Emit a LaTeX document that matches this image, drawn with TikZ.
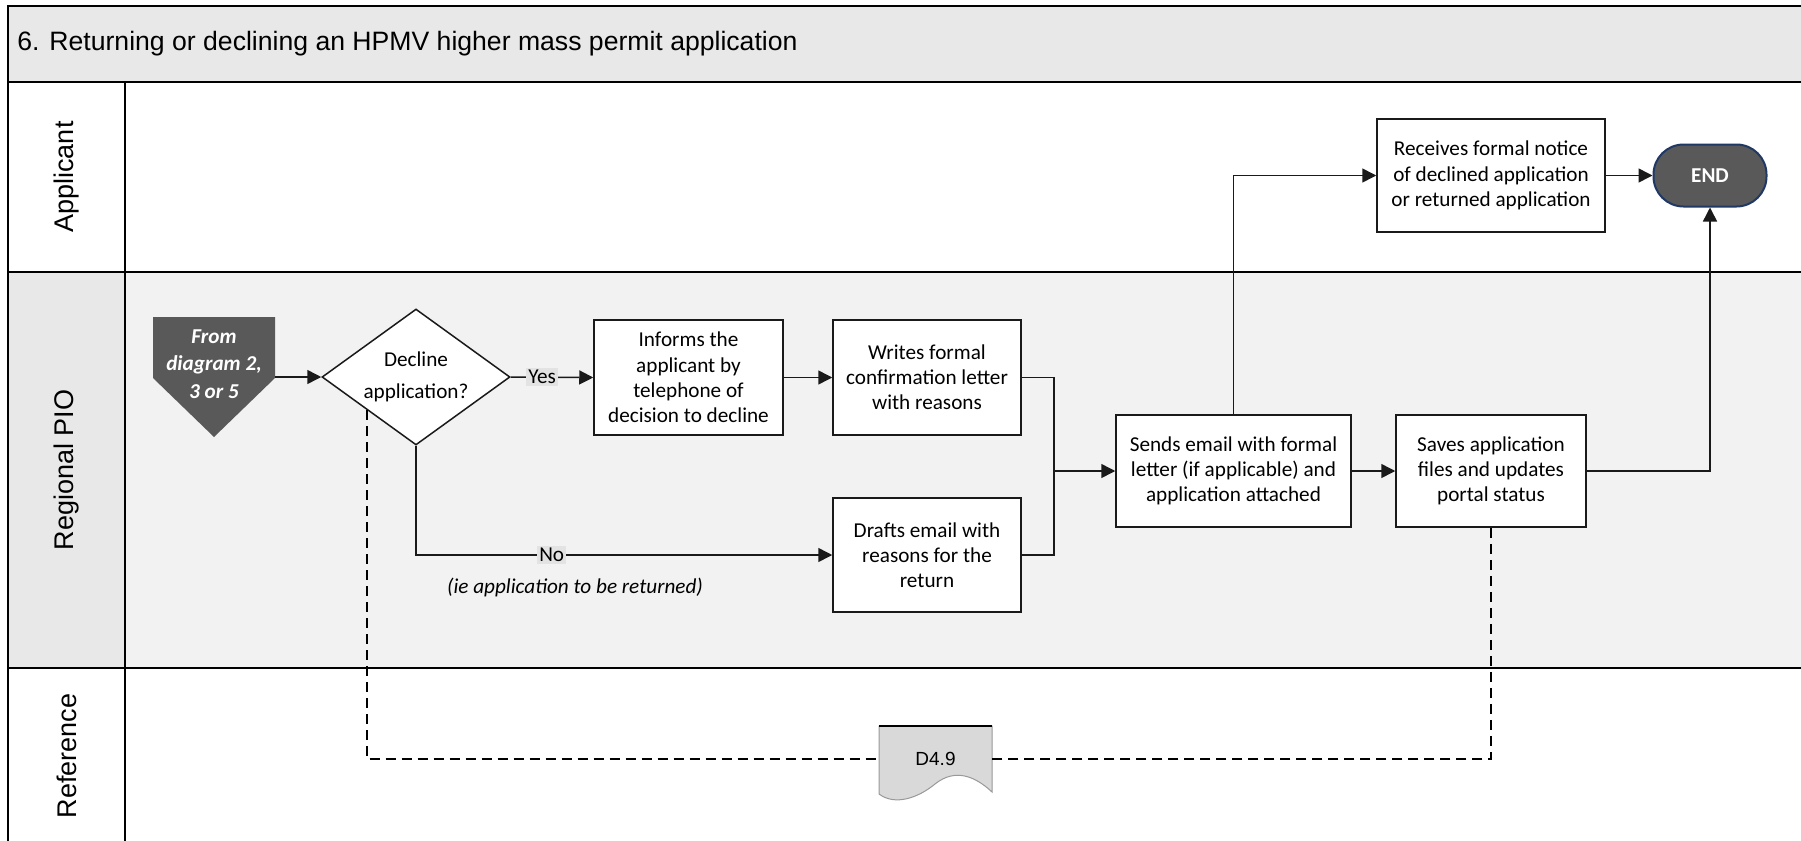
\documentclass[tikz,border=0pt]{standalone}
\usepackage{fontspec}
\setmainfont{Carlito}
\newfontfamily\arialf{Liberation Sans}
\usetikzlibrary{arrows.meta,shapes.geometric,calc}
\definecolor{titlegray}{HTML}{E8E8E8}
\definecolor{lanegray}{HTML}{F2F2F2}
\definecolor{cellgray}{HTML}{E8E8E8}
\definecolor{darkfill}{HTML}{595959}
\definecolor{endblue}{HTML}{1F3864}
\definecolor{lblgray}{HTML}{E3E3E3}
\definecolor{docgray}{HTML}{D9D9D9}
\definecolor{linecol}{HTML}{1A1A1A}
\newcommand\boxfont{\fontsize{10.6}{12.6}\selectfont}
\newcommand\lanefont{\arialf\fontsize{13.5}{16}\selectfont}
\tikzset{
  lanerule/.style={draw=black, line width=1pt},
  box/.style={draw=linecol, line width=0.75pt, fill=white, align=center, font=\boxfont, inner sep=2pt},
  arr/.style={-{Triangle[length=7pt,width=7pt]}, line width=0.75pt, draw=linecol},
  conn/.style={line width=0.75pt, draw=linecol},
  dashline/.style={line width=0.9pt, draw=black, dash pattern=on 5pt off 3pt},
  lbl/.style={fill=lblgray, inner sep=1pt, font=\boxfont},
  lanelabel/.style={rotate=90, font=\lanefont},
}
\begin{document}
\begin{tikzpicture}[x=0.5pt,y=-0.5pt]
\useasboundingbox (0,0) rectangle (1801,841);
\clip (0,0) rectangle (1801,841);
% lanes
\path[fill=titlegray, lanerule] (8,6) rectangle (1812,82);
\path[fill=white, lanerule] (8,82) rectangle (125,272);
\path[fill=white, lanerule] (125,82) rectangle (1812,272);
\path[fill=cellgray, lanerule] (8,272) rectangle (125,668);
\path[fill=lanegray, lanerule] (125,272) rectangle (1812,668);
\path[fill=white, lanerule] (8,668) rectangle (125,850);
\path[fill=white, lanerule] (125,668) rectangle (1812,850);
\draw[line width=1.4pt] (8,668) -- (1812,668);

\node[anchor=west, inner sep=0pt, font=\arialf\fontsize{13.3}{16}\selectfont] (title) at (17,44) {6. Returning or declining an HPMV higher mass permit application};
\node[lanelabel] (lapp) at (67,177) {Applicant};
\node[lanelabel] (lpio) at (67,470) {Regional PIO};
\node[lanelabel] (lref) at (67,756) {Reference};

% off-page connector
\fill[darkfill] (153,317) -- (275,317) -- (275,378) -- (214,437) -- (153,378) -- cycle;
\node[font=\fontsize{10.6}{13.6}\selectfont\bfseries\itshape, text=white, align=center, inner sep=0pt] (from) at (214,364) {From\\diagram 2,\\3 or 5};
\coordinate (fromR) at (275,377);

% decision
\node[diamond, draw=linecol, line width=0.75pt, fill=white, aspect=1.38, minimum width=94pt, minimum height=68pt, inner sep=0pt, font=\boxfont] (dec) at (416,377) {\raisebox{1.8pt}{\begin{tabular}{@{}c@{}}Decline\\[3.4pt]application?\end{tabular}}};

% process boxes
\node[box, minimum width=94.5pt, minimum height=57.5pt] (inf) at (688.5,377.5) {Informs the\\applicant by\\telephone of\\decision to decline};
\node[box, minimum width=94pt, minimum height=57.5pt] (wri) at (927,377.5) {Writes formal\\confirmation letter\\with reasons};
\node[box, minimum width=94pt, minimum height=57pt] (dra) at (927,555) {Drafts email with\\reasons for the\\return};
\node[box, minimum width=117.5pt, minimum height=56pt] (sen) at (1233.5,471) {Sends email with formal\\letter (if applicable) and\\application attached};
\node[box, minimum width=95pt, minimum height=56pt] (sav) at (1491,471) {Saves application\\files and updates\\portal status};
\node[box, minimum width=114pt, minimum height=56.5pt] (rec) at (1491,175.5) {Receives formal notice\\of declined application\\or returned application};
\node[draw=endblue, line width=1pt, fill=darkfill, rounded corners=15pt, minimum width=56.5pt, minimum height=31pt, font=\boxfont\bfseries, text=white] (end) at (1710,175.5) {END};

% document
\path[fill=docgray, draw=gray!80, line width=0.5pt] (879,726) -- (992,726) -- (992,792) .. controls (975,776) and (955,768) .. (935,784) .. controls (918,798) and (895,806) .. (879,794) -- cycle;
\draw[line width=0.8pt, black] (879,726) -- (992,726);
\node[minimum width=56.5pt, minimum height=33pt, inner sep=0pt, font=\arialf\fontsize{9.5}{11}\selectfont] (doc) at (935.5,759) {D4.9};

% connectors
\coordinate (jn) at (1054,471);
\coordinate (dstart) at ($(dec.west)!0.48!(dec.south)$);
\draw[arr] (fromR) -- (dec.west);
\draw[arr] (dec.east) -- node[lbl, pos=0.38] (yes) {Yes} (inf.west);
\draw[arr] (inf.east) -- (wri.west);
\draw[conn] (wri.east) -| (jn);
\draw[conn] (dra.east) -| (jn);
\draw[arr] (jn) -- (sen.west);
\draw[arr] (dec.south) |- node[lbl, pos=0.663] (no) {No} (dra.west);
\node[font=\boxfont\itshape, inner sep=0pt] (note) at (575,587) {(ie application to be returned)};
\draw[arr] (sen.east) -- (sav.west);
\draw[arr] (sen.north) |- (rec.west);
\draw[arr] (rec.east) -- (end.west);
\draw[arr] (sav.east) -| (end.south);
\draw[dashline] (dstart) |- (doc.west);
\draw[dashline] (sav.south) |- (doc.east);
\end{tikzpicture}
\end{document}
